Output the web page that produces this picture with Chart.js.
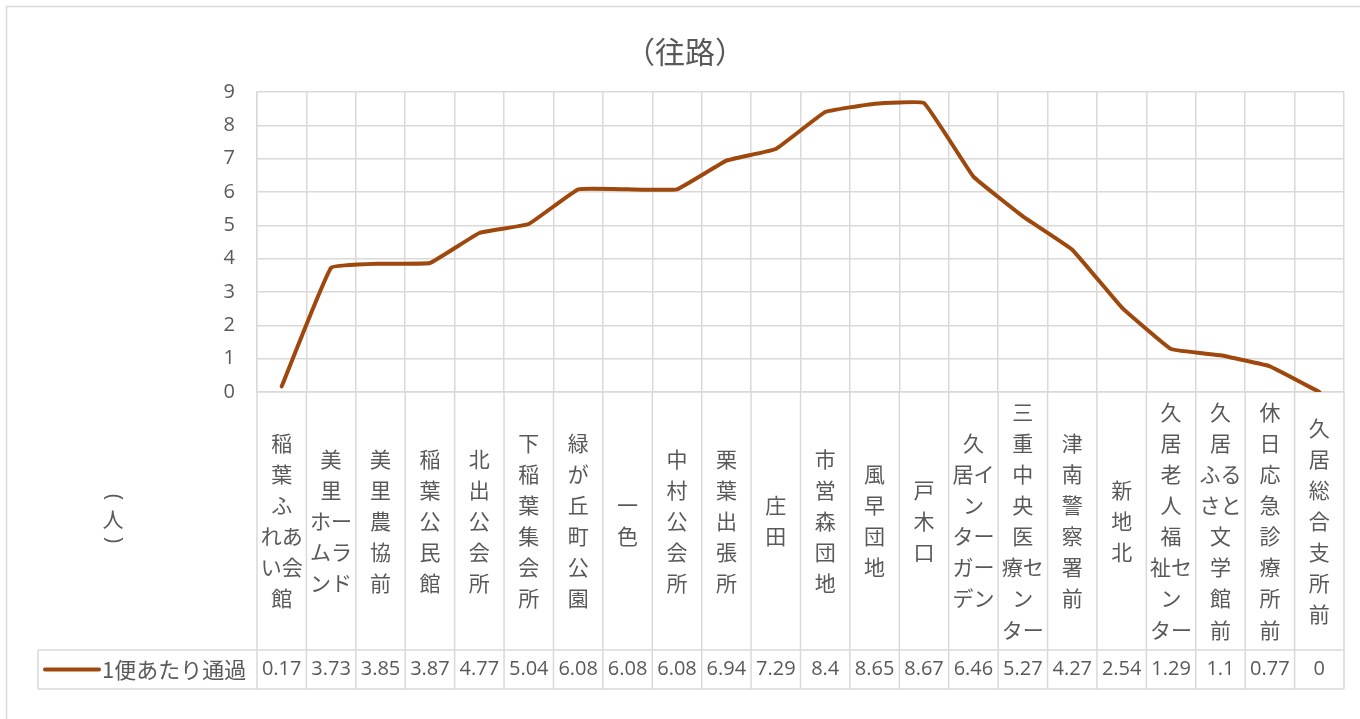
<!DOCTYPE html>
<html lang="ja">
<head>
<meta charset="utf-8">
<title>（往路）</title>
<script src="https://cdn.jsdelivr.net/npm/chart.js@4.4.1/dist/chart.umd.min.js"></script>
<style>
  html, body { margin: 0; padding: 0; background: #fff; }
  #wrap { width: 1360px; height: 719px; }
</style>
</head>
<body>
<div id="wrap"><canvas id="c" width="1360" height="719"></canvas></div>
<script>
// stop names, "|" marks where the stacked label breaks a line
const stopLabels = [
  '稲|葉|ふ|れあ|い会|館', '美|里|ホー|ムラ|ンド', '美|里|農|協|前', '稲|葉|公|民|館',
  '北|出|公|会|所', '下|稲|葉|集|会|所', '緑|が|丘|町|公|園', '一|色',
  '中|村|公|会|所', '栗|葉|出|張|所', '庄|田', '市|営|森|団|地',
  '風|早|団|地', '戸|木|口', '久|居イ|ン|ター|ガー|デン', '三|重|中|央|医|療セ|ン|ター',
  '津|南|警|察|署|前', '新|地|北', '久|居|老|人|福|祉セ|ン|ター', '久|居|ふる|さと|文|学|館|前',
  '休|日|応|急|診|療|所|前', '久|居|総|合|支|所|前'
];
const stops = stopLabels.map(s => s.split('|').join(''));
const seriesName = '1便あたり通過';
const passengers = [0.17, 3.73, 3.85, 3.87, 4.77, 5.04, 6.08, 6.08, 6.08, 6.94, 7.29,
                    8.4, 8.65, 8.67, 6.46, 5.27, 4.27, 2.54, 1.29, 1.1, 0.77, 0];
const yMin = 0, yMax = 9, yStep = 1;
const titleText = '（往路）';
const yTitle = '人';

const TEXT = '#595959';
const GRID = '#d9d9d9';
const LINE = '#9e480e';
const JP = '"Noto Sans CJK JP", "Noto Sans", sans-serif';
const NUM = '"Open Sans", "Noto Sans", sans-serif';

const frame = {
  id: 'frame',
  beforeDraw(chart) {
    const { ctx, width, height } = chart;
    ctx.save();
    ctx.fillStyle = '#fff';
    ctx.fillRect(0, 0, width, height);
    ctx.strokeStyle = GRID;
    ctx.lineWidth = 1.5;
    ctx.strokeRect(6.5, 6.5, width + 20, height + 20);
    ctx.restore();
  },
  afterDraw(chart) {
    const { ctx, chartArea, scales: { x } } = chart;
    const n = stops.length;
    const step = x.width / n;
    const rowTop = x.bottom;
    const rowBottom = rowTop + 39;
    const rowMid = (rowTop + rowBottom) / 2;
    const tableLeft = 38;
    ctx.save();
    ctx.strokeStyle = GRID;
    ctx.lineWidth = 1.5;
    ctx.beginPath();
    for (let i = 0; i <= n; i++) {
      const bx = x.left + i * step;
      ctx.moveTo(bx, chartArea.bottom);
      ctx.lineTo(bx, rowBottom);
    }
    ctx.moveTo(tableLeft, rowTop); ctx.lineTo(x.right, rowTop);
    ctx.moveTo(tableLeft, rowBottom); ctx.lineTo(x.right, rowBottom);
    ctx.moveTo(tableLeft, rowTop); ctx.lineTo(tableLeft, rowBottom);
    ctx.stroke();

    // table values
    ctx.fillStyle = TEXT;
    ctx.font = '20px ' + NUM;
    ctx.textAlign = 'center';
    ctx.textBaseline = 'middle';
    passengers.forEach((v, i) => ctx.fillText(String(v), x.getPixelForValue(i), rowMid));

    // legend key
    ctx.strokeStyle = LINE;
    ctx.lineWidth = 4;
    ctx.lineCap = 'round';
    ctx.beginPath();
    ctx.moveTo(45, rowMid); ctx.lineTo(99, rowMid);
    ctx.stroke();
    ctx.font = '22px ' + JP;
    ctx.textAlign = 'left';
    ctx.fillText(seriesName, 102, rowMid);

    // title
    ctx.font = '30px ' + JP;
    ctx.textAlign = 'center';
    ctx.fillText(titleText, 685, 52);

    // axis title, stacked with rotated brackets
    ctx.font = '21px ' + JP;
    ctx.fillText(yTitle, 113, 519);
    ctx.font = '22px ' + NUM;
    [['(', 497], [')', 540]].forEach(([b, by]) => {
      ctx.save();
      ctx.translate(113, by);
      ctx.rotate(Math.PI / 2);
      ctx.fillText(b, 0, 0);
      ctx.restore();
    });
    ctx.restore();
  }
};

new Chart(document.getElementById('c'), {
  type: 'line',
  data: {
    labels: stopLabels.map(s => s.split('|')),
    datasets: [{
      label: seriesName,
      data: passengers,
      borderColor: LINE,
      backgroundColor: LINE,
      borderWidth: 4,
      borderCapStyle: 'round',
      borderJoinStyle: 'round',
      pointRadius: 0,
      tension: 0.08,
      fill: false
    }]
  },
  options: {
    responsive: false,
    animation: false,
    layout: { padding: { left: 0, right: 16, top: 92, bottom: 69 } },
    plugins: { legend: { display: false }, tooltip: { enabled: false }, title: { display: false } },
    scales: {
      x: {
        offset: true,
        grid: { color: GRID, lineWidth: 1.5, drawTicks: false, offset: true },
        border: { color: GRID, width: 1.5 },
        ticks: {
          autoSkip: false, maxRotation: 0, minRotation: 0,
          crossAlign: 'center', padding: 20,
          color: TEXT, font: { family: JP, size: 21, lineHeight: 1.48 }
        },
        afterFit(scale) { scale.height = 258; }
      },
      y: {
        min: yMin, max: yMax,
        ticks: { stepSize: yStep, padding: 22, color: TEXT, font: { family: NUM, size: 20 } },
        grid: { color: GRID, lineWidth: 1.5, drawTicks: false },
        border: { color: GRID, width: 1.5 },
        afterFit(scale) { scale.width = 257; }
      }
    }
  },
  plugins: [frame]
});
</script>
</body>
</html>
